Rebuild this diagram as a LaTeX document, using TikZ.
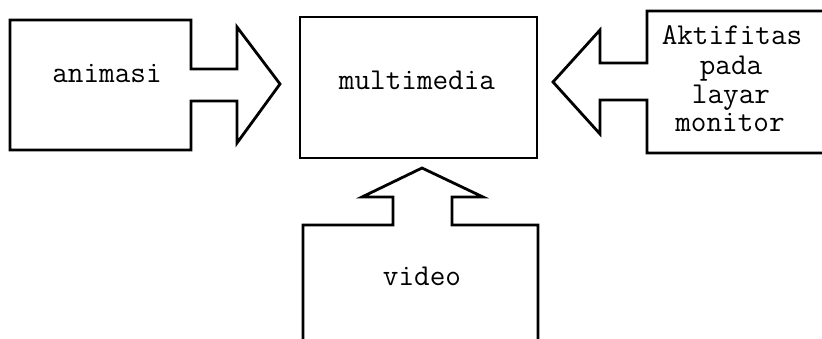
\documentclass[tikz,border=0pt]{standalone}
\usepackage{fontspec}
\begin{document}
\begin{tikzpicture}[x=1pt,y=-1pt,
  shape line/.style={line width=2.8pt,line join=miter,line cap=butt},
  lbl/.style={font=\ttfamily\fontsize{30.3}{33}\selectfont,inner sep=0pt,anchor=base}]
\clip (0,0) rectangle (822,339);
\fill[white] (0,0) rectangle (822,339);
% animasi with right arrow
\draw[shape line] (10,20) -- (191,20) -- (191,69) -- (237,69) -- (237,27) -- (280,84)
  -- (237,143) -- (237,101) -- (191,101) -- (191,150) -- (10,150) -- cycle;
\node[lbl] (animasi) at (107,83) {animasi};
% multimedia box
\draw[shape line] (300,17) rectangle (537,158);
\node[lbl] (multimedia) at (417,90) {multimedia};
% right box with left arrow
\draw[shape line] (830,11) -- (647,11) -- (647,63) -- (600,63) -- (600,30) -- (553,82)
  -- (600,134) -- (600,100) -- (647,100) -- (647,153) -- (830,153);
\node[lbl] (t1) at (732,45) {Aktifitas};
\node[lbl] (t2) at (731,75) {pada};
\node[lbl] (t3) at (731,104) {layar};
\node[lbl] (t4) at (730,132) {monitor};
% video with up arrow
\draw[shape line] (303,350) -- (303,225) -- (393,225) -- (393,197) -- (362,197) -- (422,168)
  -- (483,197) -- (452,197) -- (452,225) -- (538,225) -- (538,350);
\node[lbl] (video) at (422,285) {video};
\end{tikzpicture}
\end{document}
